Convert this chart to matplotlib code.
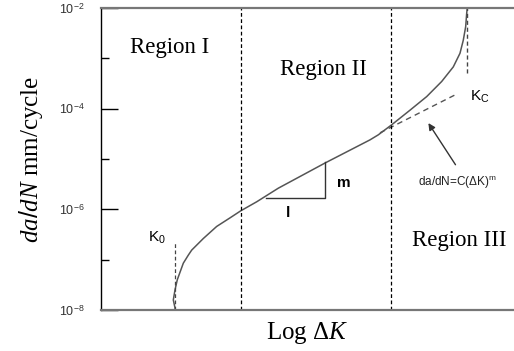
import matplotlib
matplotlib.use('Agg')
import matplotlib.pyplot as plt
import numpy as np

plt.rcParams['font.family'] = 'Liberation Serif'
plt.rcParams['mathtext.fontset'] = 'custom'
plt.rcParams['mathtext.rm'] = 'Liberation Sans'
plt.rcParams['mathtext.it'] = 'Liberation Serif:italic'

# crack growth curve, x = log dK (arbitrary units), y = log10(da/dN)
curve_x = [17.92, 17.92, 17.51, 17.92, 18.47, 19.13, 19.93, 21.14, 21.96, 24.77,
           28.01, 31.23, 33.83, 37.70, 42.93, 54.24, 65.13, 67.14, 70.39, 74.82,
           78.86, 82.49, 85.30, 86.92, 87.72, 88.30, 88.55, 88.69]
curve_logy = [-8.0, -7.96, -7.80, -7.60, -7.40, -7.25, -7.07, -6.91, -6.81, -6.58,
              -6.34, -6.17, -6.03, -5.85, -5.58, -5.08, -4.62, -4.52, -4.32, -4.03,
              -3.76, -3.46, -3.17, -2.90, -2.64, -2.37, -2.10, -2.0]

# Paris-law extension (dashed)
paris_x = [67.55, 86.13]
paris_logy = [-4.48, -3.71]

# region borders and thresholds
region_bounds = [33.9, 70.2]
k0_x, k0_top = 17.9, -6.67
kc_x, kc_bottom = 88.6, -3.29

# slope triangle
tri_x = [40.0, 54.2, 54.2]
tri_logy = [-5.77, -5.77, -5.06]

ytick_exp = [-8, -6, -4, -2]
yminor_exp = [-7, -5, -3]

fig = plt.figure(figsize=(5.14, 3.51), dpi=100)
ax = fig.add_axes([101/514, 1 - 310/351, 1 - 101/514, 302/351])

ax.plot(curve_x, 10.0**np.array(curve_logy), color='#555555', lw=1.1,
        solid_joinstyle='round')
ax.plot(paris_x, 10.0**np.array(paris_logy), color='#555555', lw=1.0, ls=(0, (4, 3)))
for xb in region_bounds:
    ax.axvline(xb, color='black', lw=0.9, ls=(0, (3, 2)))
ax.plot([k0_x, k0_x], [1e-8, 10**k0_top], color='#444444', lw=0.9, ls=(0, (3, 2)))
ax.plot([kc_x, kc_x], [10**kc_bottom, 1e-2], color='#444444', lw=1.0, ls=(0, (3, 2)))
ax.plot(tri_x, 10.0**np.array(tri_logy), color='#333333', lw=1.0)

ax.set_yscale('log')
ax.set_xlim(0, 100)
ax.set_ylim(1e-8, 1e-2)
ax.set_xticks([])
ax.set_yticks([10.0**e for e in ytick_exp])
ax.set_yticklabels([r'$10^{%d}$' % e for e in ytick_exp], fontsize=9, color='#333333')
ax.set_yticks([10.0**e for e in yminor_exp], minor=True)
ax.yaxis.set_minor_formatter(matplotlib.ticker.NullFormatter())
ax.tick_params(axis='y', which='major', direction='in', length=12, width=1, pad=12)
ax.tick_params(axis='y', which='minor', direction='in', length=6, width=1)

ax.spines['right'].set_visible(False)
ax.spines['top'].set_color('#777777')
ax.spines['top'].set_linewidth(1.6)
ax.spines['bottom'].set_color('#777777')
ax.spines['bottom'].set_linewidth(1.6)
ax.spines['left'].set_linewidth(1.0)

ax.set_ylabel(r'$\mathit{da/dN}$ mm/cycle', fontsize=18, labelpad=10)
ax.set_xlabel(r'Log Δ$\mathit{K}$', fontsize=18, labelpad=7)

ax.text(16.5, 10**-2.79, 'Region I', fontsize=16.5, ha='center', va='center')
ax.text(53.9, 10**-3.23, 'Region II', fontsize=16.5, ha='center', va='center')
ax.text(86.7, 10**-6.61, 'Region III', fontsize=16.5, ha='center', va='center')

ax.text(13.6, 10**-6.57, r'$\mathrm{K}_{0}$', fontsize=11, ha='center', va='center')
ax.text(89.3, 10**-3.77, r'$\mathrm{K}_{\mathrm{C}}$', fontsize=11, ha='left', va='center')
ax.text(58.8, 10**-5.48, 'm', fontsize=11, family='Liberation Sans', weight='bold',
        ha='center', va='center')
ax.text(45.3, 10**-6.07, 'l', fontsize=11, family='Liberation Sans', weight='bold',
        ha='center', va='center')
ax.text(86.2, 10**-5.48, r'da/dN=C(ΔK)$^{\mathrm{m}}$', fontsize=8.5,
        family='Liberation Sans', ha='center', va='center', color='#222222')
ax.annotate('', xy=(78.9, 10**-4.24), xytext=(86.2, 10**-5.16),
            arrowprops=dict(arrowstyle='-|>', color='#333333', lw=1.0,
                            mutation_scale=10))

fig.savefig('out.png', dpi=100)
